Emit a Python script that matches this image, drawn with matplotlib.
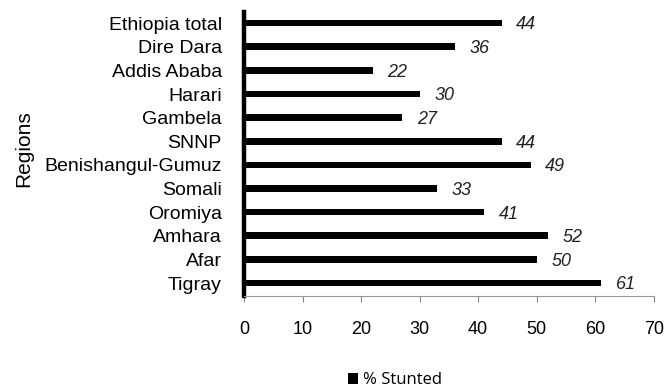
import matplotlib.pyplot as plt

regions = ['Tigray', 'Afar', 'Amhara', 'Oromiya', 'Somali', 'Benishangul-Gumuz',
           'SNNP', 'Gambela', 'Harari', 'Addis Ababa', 'Dire Dara', 'Ethiopia total']
stunted = [61, 50, 52, 41, 33, 49, 44, 27, 30, 22, 36, 44]
x_ticks = [0, 10, 20, 30, 40, 50, 60, 70]


def init():
    plt.rcParams['font.family'] = ['Liberation Sans', 'DejaVu Sans']
    fig = plt.figure(figsize=(6.65, 3.87), dpi=100)
    ax = fig.add_axes([0.367, 0.235, 0.616, 0.734])

    pos = list(range(len(regions)))
    bars = ax.barh(pos, stunted, height=0.28, color='black', label='% Stunted')

    for p, v in zip(pos, stunted):
        ax.text(v + 4.2, p - 0.08, str(v), fontsize=13, style='italic',
                ha='center', va='center', color='#222222')

    ax.set_xlim(0, 70)
    ax.set_ylim(-0.55, 11.47)
    ax.set_xticks(x_ticks)
    ax.set_yticks(pos)
    ax.set_yticklabels(regions, fontsize=14)
    ax.tick_params(axis='y', length=0, pad=16)
    ax.tick_params(axis='x', length=4, color='#888888', labelsize=13, pad=14)

    for s in ['top', 'right']:
        ax.spines[s].set_visible(False)
    ax.spines['left'].set_linewidth(3.2)
    ax.spines['left'].set_color('black')
    ax.spines['bottom'].set_linewidth(0.8)
    ax.spines['bottom'].set_color('#999999')

    fig.text(0.035, 0.615, 'Regions', rotation=90, fontsize=15, ha='center', va='center')

    fig.legend(handles=[bars], loc='center', bbox_to_anchor=(0.594, 0.018), frameon=False,
               handlelength=0.65, handleheight=0.65, handletextpad=0.3,
               prop={'family': 'Open Sans', 'size': 12})

    plt.savefig('out.png', dpi=100)


if __name__ == '__main__':
    init()
